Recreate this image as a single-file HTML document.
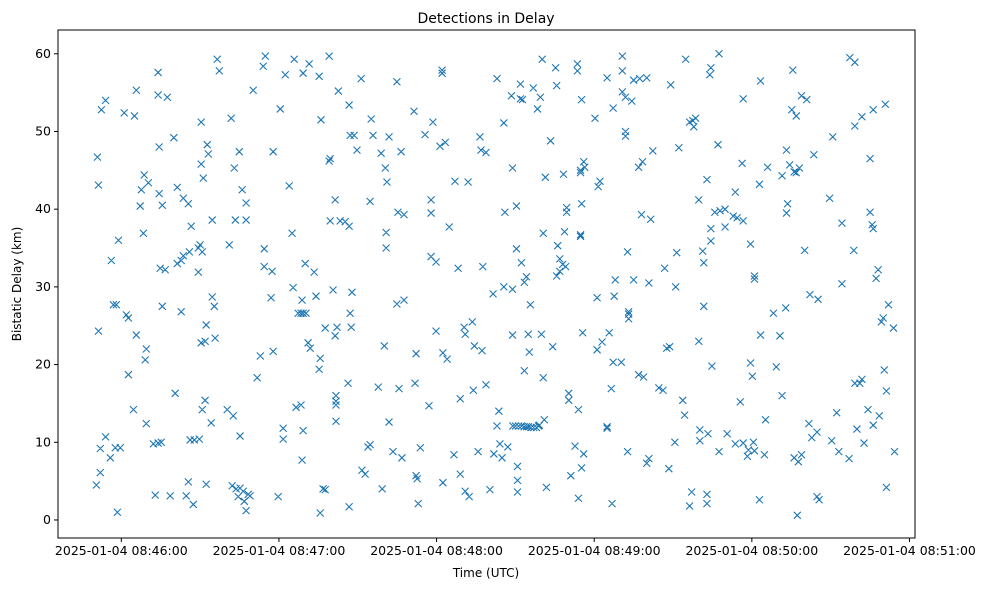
<!DOCTYPE html>
<html><head><meta charset="utf-8"><style>
body{margin:0;background:#fff;}
svg text{font-family:"DejaVu Sans","Liberation Sans",sans-serif;}
</style></head><body>
<svg id="chart" width="989" height="590" xmlns="http://www.w3.org/2000/svg">
<rect width="989" height="590" fill="#fff"/>
<text x="486" y="23" text-anchor="middle" font-size="14">Detections in Delay</text>
<text x="486" y="577" text-anchor="middle" font-size="12">Time (UTC)</text>
<text x="21" y="284" text-anchor="middle" font-size="12" transform="rotate(-90 21 284)">Bistatic Delay (km)</text>
<g id="marks"></g>
<g id="axes"></g>
</svg>
<script>
// seconds after 08:46:00 UTC
const times=[-9.1,-8.7,-8.7,-9.5,-7.6,-6,-8,-8,-6,-3.8,-3,-1.9,-4.2,-2.3,-0.4,-1.5,-1.1,1.1,5,1.9,2.7,2.7,5.7,4.6,5.7,7.2,8.7,7.6,10.3,8.4,9.1,9.5,9.5,12.2,14,15.2,12.9,14,14,17.5,14.4,14.4,15.6,14.8,16.7,15.6,18.6,20,20.5,21.3,23.6,25.5,21.3,22.8,23.6,22.8,24.7,27.4,25.9,26.6,26.2,27.8,29.7,25.5,29.3,30,30.8,29.3,30.4,32.7,33.1,30.4,31.2,30.4,31.9,32.3,30.8,31.9,32.3,34.2,34.6,35.4,35.7,34.6,36.5,37.3,41.1,41.8,40.3,42.6,43,43.4,42.2,43.7,45.2,44.5,46.4,46.8,48.3,47.5,49,44.9,46,47.5,47.5,45.2,50.2,51.7,52.9,54.4,54.4,57.4,54.8,54,57,57.8,57.8,59.7,60.5,61.6,61.6,62.4,63.9,65,65.4,66.5,65.8,68.4,69.2,68.8,67.3,68.4,69.2,70.3,68.8,70,69.2,71.5,71.1,71.9,73.4,75.3,76,74.1,75.7,76.8,77.6,75.3,75.7,77.6,79.1,79.5,79.5,79.1,80.6,81.4,82.6,81.4,82.1,81.7,81.7,81.7,81.7,83.3,85.2,86.7,86.7,87.1,88.6,89.7,87.1,87.5,87.8,86.3,86.7,91.3,94.7,93.9,91.6,92.8,95.1,95.8,94.7,97.8,99.3,100.1,98.9,100.5,100.8,100.8,101.1,101.9,101.9,103.4,104.9,105.7,104.9,106.5,105.3,107.6,106.8,107.6,111.4,112.2,111.8,113.8,113,112.2,112.6,115.6,117.1,117.9,118.6,119.8,117.9,117.9,119.8,121.3,122.1,122.1,123.3,122.4,124,124.8,122.4,126.6,127,128.2,129,129,130.9,130.5,130.9,132,132.4,133.6,134,134.4,135.8,136.5,136.9,137.3,137.6,138.8,138.8,140.3,141.5,141.8,143,143,144.1,144.9,143.7,146,145.6,145.6,147.1,148.5,148.9,148.9,148.9,150.8,150.8,150.8,150.4,150.4,151.9,151.9,152.3,152.7,153.4,153.4,154.2,154.9,155.7,155.3,156.8,158.4,159.5,159.1,159.9,160.6,160.6,160.2,161,161.4,161.8,163.4,164.2,165.3,165.7,166.1,165.7,166.9,166.9,168,168.3,168.7,169.5,169.5,169.1,170.3,170.3,171.1,172.7,173.6,173.6,174,174,174.8,174.8,174.8,175.2,175.2,174.8,176,175.2,176,175.6,176.4,180.3,181.1,181.1,181.5,182.2,183,184.9,184.9,184.9,185.7,186.5,186.8,187.2,187.2,187.6,188,190.3,190.7,190.7,190.7,191.9,191.9,191.9,193.1,192.7,193.1,193.1,192.7,194.3,195,195,196.9,196.9,197.3,198,198.4,198.8,200,200,200.8,200.8,201.5,202.3,204.6,206.2,206.8,207.6,208.7,209.1,208.4,211,211.4,210.7,212.2,213.7,214.4,214.8,216.3,217.1,216.3,217.5,217.9,218.6,219.8,219.8,220.2,220.2,221.3,221.7,221.7,222.9,222.9,222.9,223.3,224,224.4,224.4,224.8,224.4,225.9,227.1,227.5,227.5,227.9,229.8,229.8,230.6,232.9,233.7,233.7,234.4,235.6,236.7,236.7,236.3,236.7,238.3,238.7,239.5,239.5,240.2,240.6,241,241,241,242.9,243.3,243.3,242.9,245.2,246,244.8,249.3,248.2,251.5,250.7,251.5,252.9,253.2,253.2,253.6,254.4,255.2,255.6,256.9,256.1,256.9,258.1,257.3,256.1,257.7,258.9,258.9,260.1,260.9,261.7,262.1,262.8,263.6,264.8,264.8,265.2,265.6,269.6,270.8,270.4,272.3,273.1,274.3,274.3,277,277.3,279.2,279.2,278.8,279.2,280,281.9,281.1,281.9,282.7,284.2,285,285,285.8,286.2,286.2,286.2,287.3,288.1,288.5,289.3,290,290.4,290.8,291.2,291.2,292,293.9,294.3,
149,150,151.2,152.3,153.3,154.2,155,156,157,158,158.8];
const delays=[46.7,43.1,24.3,4.5,52.8,54,9.2,6.1,10.7,33.4,27.7,27.7,8,9.3,9.3,1,36,52.4,52,26.4,26,18.7,55.3,14.2,23.8,40.4,44.4,42.5,43.4,36.9,20.6,22,12.4,9.8,9.9,10,3.2,57.6,54.7,54.4,48,42,40.5,32.4,32.2,27.5,3.1,49.2,16.3,42.8,41.4,40.7,33,33.4,34,26.8,3.1,2,34.5,37.8,10.3,10.3,10.4,4.9,35,35.4,34.5,31.9,51.2,48.3,47.1,45.8,44,22.8,23,25.1,14.2,15.4,4.6,12.5,28.7,27.5,23.4,38.6,59.3,57.8,35.4,51.7,14.2,13.4,45.3,38.6,4.4,4,4.1,3,3.7,2.4,3.3,1.2,3.1,47.4,42.5,40.8,38.6,10.8,55.3,18.3,21.1,34.9,32.6,32,59.7,58.4,28.6,47.4,21.7,3,52.9,11.8,10.4,57.3,43,36.9,29.9,14.5,59.3,14.8,11.5,7.7,26.6,26.6,26.6,26.6,28.3,33,57.5,58.7,22.8,22.1,31.9,57.1,51.5,28.8,0.9,4,3.9,19.4,20.8,24.7,59.7,38.5,46.5,46.2,29.6,41.2,55.2,23.7,24.8,16,14.8,12.7,15.3,38.5,38.4,37.8,53.4,49.5,49.5,47.6,26.6,24.8,29.3,17.6,1.7,56.8,41,9.4,6.4,5.9,51.6,49.5,9.7,17.1,4,22.4,47.2,45.3,35,37,43.5,49.3,12.6,8.8,27.8,16.9,56.4,47.4,39.6,39.3,8,28.3,52.6,21.4,17.6,9.3,2.1,5.7,5.3,49.6,14.7,33.9,51.2,33.2,41.2,39.5,24.3,48.1,57.9,57.5,48.6,21.5,20.7,37.7,4.8,8.4,43.6,32.4,5.9,15.6,23.9,24.8,3.7,43.5,3,25.5,16.7,22.4,8.8,49.3,47.6,21.8,32.6,17.4,47.3,3.9,29.1,8.5,56.8,12.1,9.8,8,14,39.6,51.1,30,9.4,54.6,23.8,29.7,45.3,3.6,5.1,6.9,40.4,34.9,56.1,54.2,33.1,54.1,19.2,30.6,31.3,23.9,27.7,21.6,55.6,52.9,54.4,12.2,23.9,18.3,36.9,59.3,12.9,44.1,4.2,48.8,22.3,58.2,55.9,35.3,31.4,32,33.6,32.9,44.5,37.1,39.6,40.2,32.6,15.4,16.3,5.7,9.5,57.8,58.7,14.2,2.8,36.7,44.7,36.5,54.1,40.7,45,46.1,6.7,8.5,24.1,45.4,51.7,28.6,21.9,42.9,43.6,22.9,11.8,12,56.9,24.1,16.9,2.1,20.3,53,28.8,30.9,20.3,57.8,59.7,55.1,49.4,50,54.4,25.9,34.5,26.8,26.5,8.8,53.9,56.6,30.9,45.4,18.7,56.8,39.3,46.1,18.4,56.9,7.3,7.9,30.5,38.7,47.5,17,16.7,32.4,22.1,22.3,56,6.6,30,34.4,10,47.9,15.4,13.5,59.3,1.8,3.6,51.2,51.4,50.6,51.7,41.2,23,11.6,10.2,34.6,33.1,27.5,43.8,3.3,2.1,11.1,57.3,58.2,35.9,19.8,37.5,39.6,48.3,60,8.8,39.8,37.7,40,11.1,39.1,9.8,42.2,38.9,15.2,38.5,54.2,45.9,9.9,8.2,9,35.5,20.2,18.5,10,31,31.4,8.9,43.2,23.8,56.5,2.6,12.9,45.4,8.4,19.7,26.6,16,23.7,44.3,27.3,47.6,39.5,40.7,45.7,52.8,57.9,52,44.8,44.7,45.3,0.6,8,7.5,8.4,54.6,34.7,54.1,12.4,29,10.6,47,11.3,3,28.4,2.6,41.4,49.3,10.2,13.8,8.8,38.2,30.4,7.9,59.5,58.9,50.7,34.7,17.6,11.7,51.9,17.6,18.1,9.9,14.2,39.6,46.5,38,37.5,52.8,12.2,31.1,32.2,13.4,25.5,26,19.3,53.5,16.6,4.2,27.7,24.7,8.8,
12.1,12.1,12.1,12.1,12,12,12,11.9,11.9,11.9,12.1];
const xTickSecs=[0,60,120,180,240,300];
const xTickLabels=["2025-01-04 08:46:00","2025-01-04 08:47:00","2025-01-04 08:48:00","2025-01-04 08:49:00","2025-01-04 08:50:00","2025-01-04 08:51:00"];
const yTicks=[0,10,20,30,40,50,60];

const L=58,R=915,T=30,B=538;
const xMin=-24.1,xMax=302.1,yMin=-2.32,yMax=63.06;
const xs=v=>L+(v-xMin)/(xMax-xMin)*(R-L);
const ys=v=>B-(v-yMin)/(yMax-yMin)*(B-T);
const NS="http://www.w3.org/2000/svg";
const marks=document.getElementById('marks');
let d="";
const n=Math.min(times.length,delays.length);
for(let i=0;i<n;i++){
  const x=xs(times[i]),y=ys(delays[i]),s=3.5;
  d+=`M${x-s} ${y-s}L${x+s} ${y+s}M${x-s} ${y+s}L${x+s} ${y-s}`;
}
const p=document.createElementNS(NS,'path');
p.setAttribute('d',d);p.setAttribute('stroke','#1f77b4');p.setAttribute('stroke-width','1.1');p.setAttribute('fill','none');


marks.appendChild(p);
const ax=document.getElementById('axes');
let h=`<rect x="${L}" y="${T}" width="${R-L}" height="${B-T}" fill="none" stroke="#000" stroke-width="1"/>`;
xTickSecs.forEach((s,i)=>{const x=xs(s);
 h+=`<line x1="${x}" y1="${B}" x2="${x}" y2="${B+4}" stroke="#000"/><text x="${x}" y="${B+17}" text-anchor="middle" font-size="12.5">${xTickLabels[i]}</text>`;});
yTicks.forEach(v=>{const y=ys(v);
 h+=`<line x1="${L-4}" y1="${y}" x2="${L}" y2="${y}" stroke="#000"/><text x="${L-7}" y="${y+4}" text-anchor="end" font-size="12.5">${v}</text>`;});
ax.innerHTML=h;
</script>
</body></html>
